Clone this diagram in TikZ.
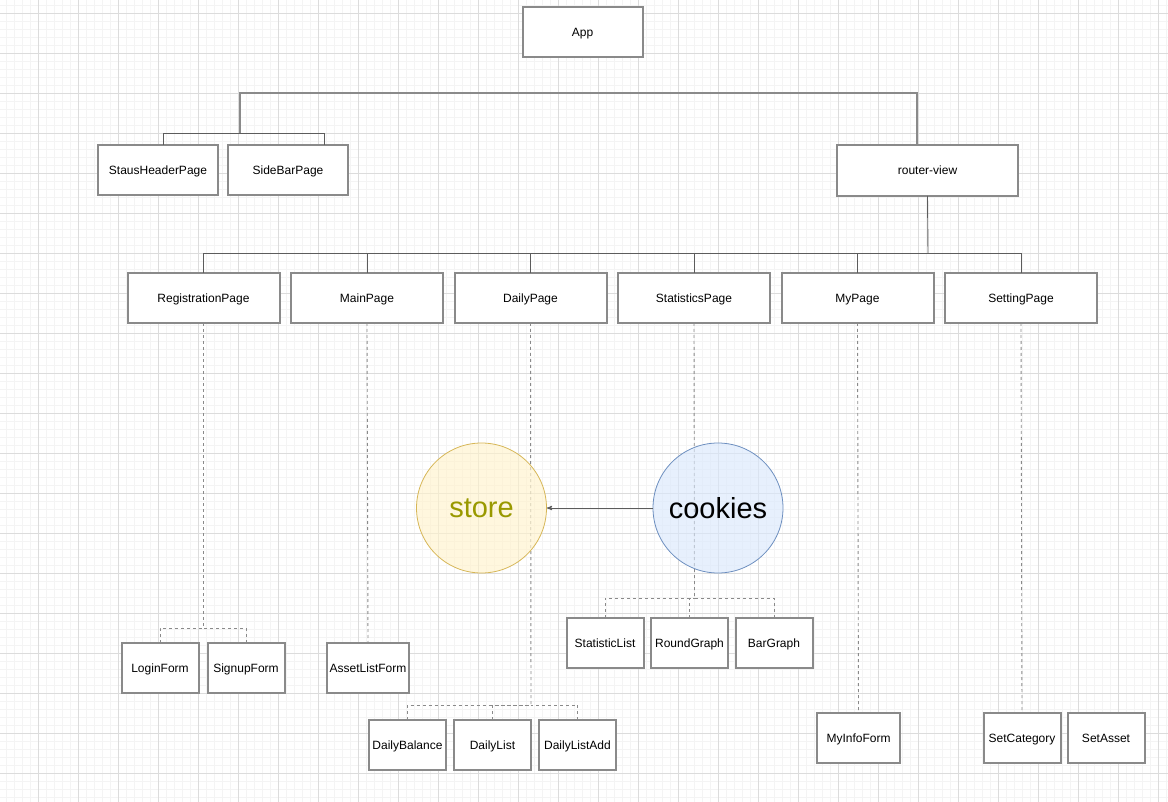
\documentclass[tikz,border=0pt]{standalone}
\usepackage{fontspec}
\setmainfont{Liberation Sans}
\usetikzlibrary{shapes,arrows,positioning}

\definecolor{boxline}{HTML}{8A8A8A}
\definecolor{wire}{HTML}{5C5C5C}
\definecolor{gridmaj}{HTML}{DCDCDC}
\definecolor{gridmin}{HTML}{F4F4F4}
\definecolor{storefill}{HTML}{FFF2CC}
\definecolor{storeline}{HTML}{D6B656}
\definecolor{storetext}{HTML}{999900}
\definecolor{cookfill}{HTML}{DAE8FC}
\definecolor{cookline}{HTML}{6C8EBF}

\begin{document}
\begin{tikzpicture}[%
    x=1pt, y=-1pt,              % Work in pixels, top-down
    >=stealth',                 % Arrow tip for the data flow
    node distance=10pt,         % Gap between boxes of one row
    ]
% -------------------------------------------------
% Box and line styles
\tikzset{
  base/.style={draw=boxline, line width=2pt, fill=white, inner sep=0pt,
               outer sep=0pt, align=center, text height=8.6pt, text depth=0pt,
               font=\fontsize{12}{14}\selectfont},
  top/.style={base, minimum width=120pt, minimum height=50pt},
  page/.style={base, minimum width=152pt, minimum height=50pt},
  form/.style={base, minimum width=77pt, minimum height=50pt},
  link/.style={draw=wire, line width=0.9pt},
  toplink/.style={draw=boxline, line width=1.4pt},
  dlink/.style={draw=boxline, line width=0.9pt, dash pattern=on 3pt off 3pt},
  blob/.style={circle, minimum size=130pt, line width=0.8pt, fill opacity=0.65,
               text opacity=1, font=\fontsize{29}{32}\selectfont}
}
\useasboundingbox (0,0) rectangle (1168,802);
% -------------------------------------------------
% Background grid
\foreach \x in {6,14,...,1166} \draw[gridmin, line width=0.6pt] (\x,0) -- (\x,802);
\foreach \y in {5,13,...,797} \draw[gridmin, line width=0.6pt] (0,\y) -- (1168,\y);
\foreach \x in {38,78,...,1158} \draw[gridmaj, line width=0.8pt] (\x,0) -- (\x,802);
\foreach \y in {13,53,...,793} \draw[gridmaj, line width=0.8pt] (0,\y) -- (1168,\y);
% -------------------------------------------------
% Top level
\node [top] (app) at (582.5,32.5) {App};
\node [top] (shp) at (158,170) {StausHeaderPage};
\node [top, right=of shp] (sbp) {SideBarPage};
\node [base, minimum width=181pt, minimum height=51pt] (rv) at (927.5,170.5) {router-view};

% Pages under router-view
\node [page] (reg) at (203.5,298) {RegistrationPage};
\node [page, right=11.5pt of reg] (main) {MainPage};
\node [page, right=11.5pt of main] (daily) {DailyPage};
\node [page, right=11.5pt of daily] (stat) {StatisticsPage};
\node [page, right=11.5pt of stat] (my) {MyPage};
\node [page, right=11.5pt of my] (set) {SettingPage};

% Forms
\node [form] (login) at (160,668) {LoginForm};
\node [form, right=9pt of login] (signup) {SignupForm};
\node [form, minimum width=82pt] (asset) at (368,668) {AssetListForm};
\node [form] (dbal) at (407.5,745) {DailyBalance};
\node [form, right=8pt of dbal] (dlist) {DailyList};
\node [form, right=8pt of dlist] (dadd) {DailyListAdd};
\node [form] (slist) at (605,643) {StatisticList};
\node [form, right=7.5pt of slist] (rgraph) {RoundGraph};
\node [form, right=7.5pt of rgraph] (bgraph) {BarGraph};
\node [form, minimum width=83pt] (myinfo) at (858.5,738) {MyInfoForm};
\node [form] (setcat) at (1022,738) {SetCategory};
\node [form, right=7pt of setcat] (setasset) {SetAsset};

% Forks
\coordinate (hub) at (240,133);
\coordinate (bar) at (240,93);
\coordinate (bus) at (928,253);
\coordinate (regfork) at (203.5,628);
\coordinate (dailyfork) at (531,705);
\coordinate (statfork) at (694.5,598);

% -------------------------------------------------
% Solid tree lines
\draw[link] ([xshift=5pt]shp.north) -- ++(0,-12) -| ([xshift=36pt]sbp.north);
\draw[toplink] (hub) -- (bar) -| ([xshift=-10.5pt]rv.north);
\draw[link] (rv.south) -- (bus);
\foreach \p in {reg,main,daily,stat,my,set}
  \draw[link] (\p.north) |- (bus);

% Dashed lines down to the forms
\draw[dlink] (reg.south) -- (regfork);
\foreach \f in {login,signup} \draw[dlink] (\f.north) |- (regfork);
\draw[dlink] (main.south) -- (asset.north);
\draw[dlink] (daily.south) -- (dailyfork);
\foreach \f in {dbal,dlist,dadd} \draw[dlink] (\f.north) |- (dailyfork);
\draw[dlink] (stat.south) -- (statfork);
\foreach \f in {slist,rgraph,bgraph} \draw[dlink] (\f.north) |- (statfork);
\draw[dlink] (my.south) -- (myinfo.north);
\draw[dlink] (set.south) -- (setcat.north);

% Store and cookies
\node [blob, draw=storeline, fill=storefill, text=storetext] (store) at (481.5,508) {store};
\node [blob, draw=cookline, fill=cookfill] (cookies) at (718,508) {cookies};
\draw[->, draw=wire, line width=0.9pt] (cookies) -- (store);		%cookies,store
% -------------------------------------------------
\end{tikzpicture}
\end{document}
